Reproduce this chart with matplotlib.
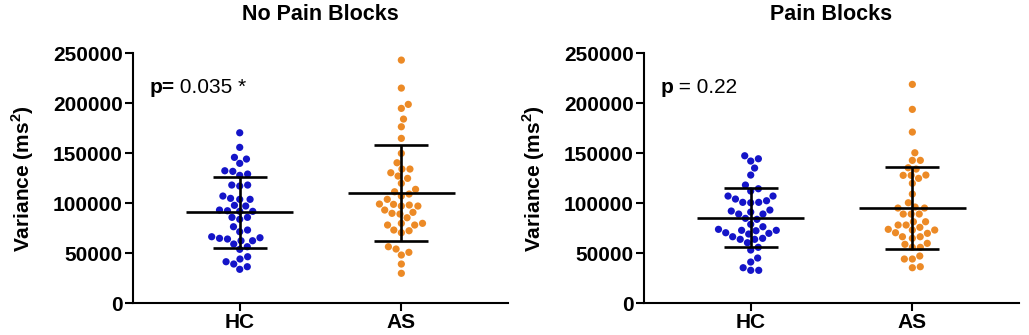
import numpy as np
import matplotlib
matplotlib.use("Agg")
import matplotlib.pyplot as plt

plt.rcParams['font.family'] = ['Liberation Sans', 'DejaVu Sans']
plt.rcParams['mathtext.fontset'] = 'custom'
plt.rcParams['mathtext.rm'] = 'Liberation Sans'
plt.rcParams['mathtext.bf'] = 'Liberation Sans:bold'

groups = ["HC", "AS"]

# No Pain Blocks
np_hc = [170300, 155700, 145700, 144000, 139700, 132300, 129000, 127700, 131700,
         118000, 117000, 118000, 107000, 103700, 103700, 104700, 97700, 97000,
         93000, 91700, 91700, 92300, 85700, 83700, 85700, 76300, 71300, 73000,
         66300, 64700, 62300, 62300, 64000, 65300, 59000, 53700, 56300, 44000,
         46300, 39000, 41300, 33700, 36300]
np_as = [243000, 215000, 194700, 198700, 184000, 176300, 164700, 149700, 140300,
         134000, 134000, 130300, 127000, 124700, 119700, 113700, 111300, 107000,
         109000, 103700, 99000, 98000, 98700, 97000, 97000, 93000, 90700, 89000,
         89700, 85300, 79700, 78000, 79700, 78000, 73000, 70300, 72300, 54000,
         56300, 50700, 48000, 39000, 29700]
np_mean = [91000, 110500]
np_sd_low = [55500, 62000]
np_sd_high = [126000, 158500]

# Pain Blocks
p_hc = [147300, 142000, 144300, 135000, 128000, 118000, 112000, 114300, 107000,
        102300, 100700, 100300, 100700, 104000, 107000, 92000, 93000, 89000,
        89000, 91000, 84700, 83700, 78700, 76300, 72700, 72300, 72700, 73700,
        69700, 69000, 70300, 66300, 63700, 64700, 63700, 60300, 53000, 55700,
        45000, 41000, 35300, 32700, 32700]
p_as = [218700, 193700, 171000, 150300, 142700, 142700, 135300, 134000, 128000,
        127700, 124700, 127700, 119700, 109000, 100300, 95000, 95000, 96000,
        89000, 89000, 89000, 81300, 81300, 78000, 78000, 73700, 73000, 73000,
        75700, 69700, 70300, 66300, 64700, 66300, 58700, 59700, 55700, 55700,
        47000, 44000, 44000, 35300, 36300]
p_mean = [85500, 95500]
p_sd_low = [56000, 54000]
p_sd_high = [115000, 136500]

colors = ['#1414C8', '#EC8A26']


def swarm(vals, diam=8.0, px_x=161.7, px_y=1000.0):
    # simple beeswarm: put each point as close to the centre as it fits
    ys = np.asarray(vals, dtype=float) / px_y
    offs = np.zeros(len(ys))
    placed = []
    for i in np.argsort(ys):
        y = ys[i]
        cands = [0.0]
        for px, py in placed:
            dy = y - py
            if abs(dy) < diam:
                dx = np.sqrt(diam ** 2 - dy ** 2)
                cands += [px + dx, px - dx]
        cands.sort(key=abs)
        for c in cands:
            ok = all((c - px) ** 2 + (y - py) ** 2 >= diam ** 2 - 1e-6 for px, py in placed)
            if ok:
                offs[i] = c
                placed.append((c, y))
                break
    return offs / px_x


fig = plt.figure(figsize=(10.29, 3.35), dpi=100)
ax1 = fig.add_axes([0.1293, 0.0955, 0.3644, 0.746])
ax2 = fig.add_axes([0.6259, 0.0955, 0.3644, 0.746])

panels = [
    (ax1, "No Pain Blocks", [np_hc, np_as], np_mean, np_sd_low, np_sd_high, "0.035 *", "p="),
    (ax2, "Pain Blocks", [p_hc, p_as], p_mean, p_sd_low, p_sd_high, "= 0.22", "p"),
]

for ax, title, data, mean, lo, hi, ptxt, plab in panels:
    for i, vals in enumerate(data):
        x = i + swarm(vals)
        ax.scatter(x, vals, s=27, color=colors[i], edgecolors='none', zorder=2)
        ax.hlines(mean[i], i - 0.33, i + 0.33, color='black', lw=1.9, zorder=3)
        ax.hlines([lo[i], hi[i]], i - 0.167, i + 0.167, color='black', lw=1.9, zorder=3)
        ax.vlines(i, lo[i], hi[i], color='black', lw=1.9, zorder=3)

    ax.set_xlim(-0.66, 1.66)
    ax.set_ylim(0, 250000)
    ax.set_yticks([0, 50000, 100000, 150000, 200000, 250000])
    ax.set_xticks([0, 1])
    ax.set_xticklabels(groups)
    for s in ['top', 'right']:
        ax.spines[s].set_visible(False)
    for s in ['left', 'bottom']:
        ax.spines[s].set_linewidth(1.5)
    ax.tick_params(width=1.5, length=5.5, labelsize=15, pad=2)
    for lab in ax.get_xticklabels() + ax.get_yticklabels():
        lab.set_fontweight('bold')
    ax.set_ylabel(r"Variance (ms$^{\mathbf{2}}$)", fontsize=15, fontweight='bold', labelpad=12)
    ax.set_title(title, fontsize=15.5, fontweight='bold', pad=24)

    t = ax.text(-0.56, 216000, plab, fontsize=15, fontweight='bold', va='center')
    ax.annotate(" " + ptxt, xycoords=t, xy=(1, 0), va='bottom', fontsize=15)

fig.savefig("out.png", dpi=100)
